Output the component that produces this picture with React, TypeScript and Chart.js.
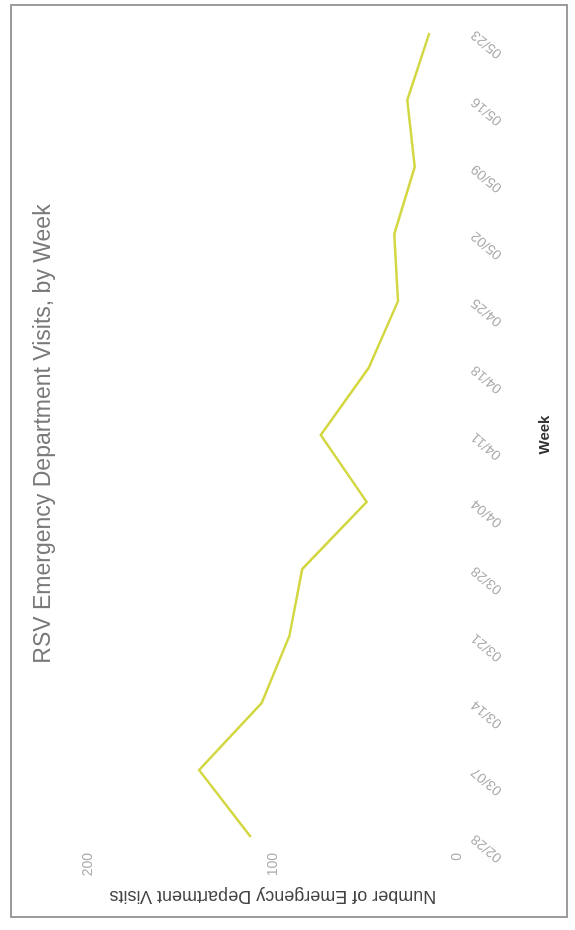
import React, { useEffect, useRef } from "react";
import { Chart, registerables } from "chart.js";

Chart.register(...registerables);

const weeks = [
  "02/28", "03/07", "03/14", "03/21", "03/28", "04/04", "04/11",
  "04/18", "04/25", "05/02", "05/09", "05/16", "05/23",
];
const visits = [112, 140, 106, 91, 84, 49, 74, 48, 32, 34, 23, 27, 15];
const yTicks = [0, 100, 200];

const FONT = "'Liberation Sans', Arial, Helvetica, sans-serif";

export default function App() {
  const ref = useRef<HTMLCanvasElement | null>(null);

  useEffect(() => {
    if (!ref.current) return;
    const chart = new Chart(ref.current, {
      type: "line",
      data: {
        labels: weeks,
        datasets: [
          {
            label: "RSV Emergency Department Visits",
            data: visits,
            borderColor: "rgb(210, 215, 66)",
            backgroundColor: "rgb(210, 215, 66)",
            borderWidth: 2.5,
            pointRadius: 0,
            tension: 0,
            fill: false,
          },
        ],
      },
      options: {
        responsive: false,
        animation: false,
        devicePixelRatio: 1,
        layout: { padding: 0 },
        plugins: {
          legend: { display: false },
          tooltip: { enabled: false },
          title: {
            display: true,
            text: "RSV Emergency Department Visits, by Week",
            color: "#7a7a7a",
            font: { family: FONT, size: 23, weight: "normal" },
            padding: { top: 30, bottom: 31 },
          },
        },
        scales: {
          x: {
            type: "category",
            grid: { display: false, drawTicks: false },
            border: { display: false },
            ticks: {
              autoSkip: false,
              minRotation: 50,
              maxRotation: 50,
              padding: 11,
              color: "#ababab",
              font: { family: FONT, size: 14 },
            },
            title: {
              display: true,
              text: "Week",
              color: "#333",
              font: { family: FONT, size: 15, weight: "bold" },
              padding: { top: 0, bottom: 21 },
            },
            afterFit: (s: any) => {
              s.height = 118;
            },
          },
          y: {
            position: "left",
            min: 0,
            max: 200,
            afterBuildTicks: (s: any) => {
              s.ticks = yTicks.map((v) => ({ value: v }));
            },
            grid: { display: false, drawTicks: false },
            border: { display: false },
            ticks: {
              padding: 16,
              color: "#ababab",
              font: { family: FONT, size: 14 },
            },
            title: {
              display: true,
              text: "Number of Emergency Department Visits",
              color: "#444",
              font: { family: FONT, size: 18, weight: "normal" },
              padding: { top: 23, bottom: 0 },
            },
            afterFit: (s: any) => {
              s.width = 93;
            },
          },
          yRight: {
            position: "right",
            display: true,
            grid: { display: false, drawTicks: false },
            border: { display: false },
            ticks: { display: false },
            afterFit: (s: any) => {
              s.width = 95;
            },
          },
        },
      },
    });
    return () => chart.destroy();
  }, []);

  return (
    <div
      style={{
        position: "fixed",
        left: 0,
        top: 0,
        width: 575,
        height: 930,
        overflow: "hidden",
        background: "#fff",
      }}
    >
      <div
        style={{
          position: "absolute",
          left: 0,
          top: 0,
          width: 992,
          height: 575,
          transformOrigin: "0 0",
          transform: "rotate(-90deg) translate(-930px, 0)",
        }}
      >
        <div
          style={{
            position: "absolute",
            left: 12,
            top: 10,
            width: 914,
            height: 558,
            boxSizing: "border-box",
            border: "2px solid #9c9c9c",
          }}
        />
        <canvas
          ref={ref}
          width={992}
          height={575}
          style={{ position: "absolute", left: 0, top: 0, width: 992, height: 575 }}
        />
      </div>
    </div>
  );
}
